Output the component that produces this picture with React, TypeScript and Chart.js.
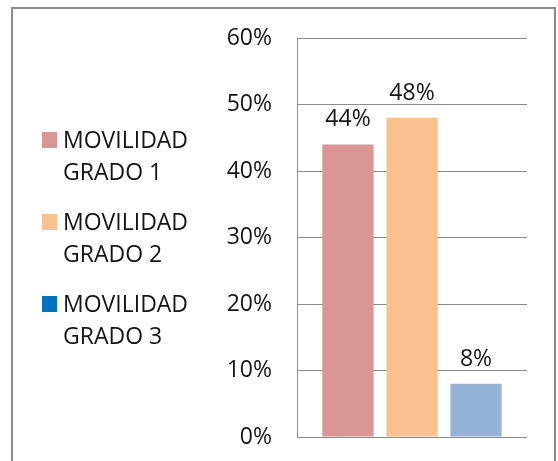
import React, { useEffect, useRef } from "react";
import { Chart, registerables } from "chart.js";

Chart.register(...registerables);

const categories = [""];
const seriesNames = ["MOVILIDAD GRADO 1", "MOVILIDAD GRADO 2", "MOVILIDAD GRADO 3"];
const legendLines = [["MOVILIDAD", "GRADO 1"], ["MOVILIDAD", "GRADO 2"], ["MOVILIDAD", "GRADO 3"]];
const grado1 = [44];
const grado2 = [48];
const grado3 = [8];
const barColors = ["#D99694", "#FAC090", "#95B3D7"];
const legendColors = ["#D99694", "#FAC090", "#0070C0"];
const yTicks = [0, 10, 20, 30, 40, 50, 60];

const FONT = "'Open Sans', sans-serif";
const FONT_SIZE = 23;

const frameAndLegend = {
  id: "frameAndLegend",
  afterDraw(chart: any) {
    const ctx = chart.ctx;
    ctx.save();
    ctx.strokeStyle = "#8C8C8C";
    ctx.lineWidth = 2;
    ctx.strokeRect(12, 8, 543, 470);
    ctx.font = `${FONT_SIZE}px ${FONT}`;
    ctx.textBaseline = "middle";
    ctx.textAlign = "left";
    legendLines.forEach((lines, i) => {
      const y0 = 141 + i * 82;
      ctx.fillStyle = legendColors[i];
      ctx.fillRect(42, y0 - 9, 15, 16);
      ctx.fillStyle = "#141414";
      ctx.fillText(lines[0], 63, y0);
      ctx.fillText(lines[1], 63, y0 + 32);
    });
    // data labels
    ctx.textAlign = "center";
    ctx.textBaseline = "alphabetic";
    chart.data.datasets.forEach((ds: any, di: number) => {
      const meta = chart.getDatasetMeta(di);
      meta.data.forEach((bar: any, j: number) => {
        ctx.fillText(ds.data[j] + "%", bar.x, bar.y - 18);
      });
    });
    ctx.restore();
  },
};

export default function App() {
  const ref = useRef<HTMLCanvasElement>(null);
  useEffect(() => {
    const data = [grado1, grado2, grado3];
    const chart = new Chart(ref.current!, {
      type: "bar",
      data: {
        labels: categories,
        datasets: seriesNames.map((name, i) => ({
          label: name,
          data: data[i],
          backgroundColor: barColors[i],
          barPercentage: 0.8,
          categoryPercentage: 0.835,
        })),
      },
      options: {
        responsive: false,
        animation: false,
        devicePixelRatio: 1,
        layout: { padding: { left: 0, right: 31, top: 38, bottom: 24 } },
        plugins: { legend: { display: false }, tooltip: { enabled: false } },
        scales: {
          x: { display: false },
          y: {
            min: 0,
            max: 60,
            afterFit: (s: any) => {
              s.width = 297;
              s.paddingTop = 0;
              s.paddingBottom = 0;
            },
            afterBuildTicks: (s: any) => {
              s.ticks = yTicks.map((v) => ({ value: v }));
            },
            ticks: {
              padding: 25,
              color: "#141414",
              font: { family: FONT, size: FONT_SIZE },
              callback: (v: any) => v + "%",
            },
            grid: { color: "#8C8C8C", lineWidth: 1, drawTicks: false },
            border: { color: "#8C8C8C", width: 1 },
          },
        },
      },
      plugins: [frameAndLegend],
    });
    return () => chart.destroy();
  }, []);
  return (
    <div style={{ position: "fixed", left: 0, top: 0, width: 558, height: 461, background: "#fff" }}>
      <canvas ref={ref} width={558} height={461} style={{ display: "block" }} />
    </div>
  );
}
